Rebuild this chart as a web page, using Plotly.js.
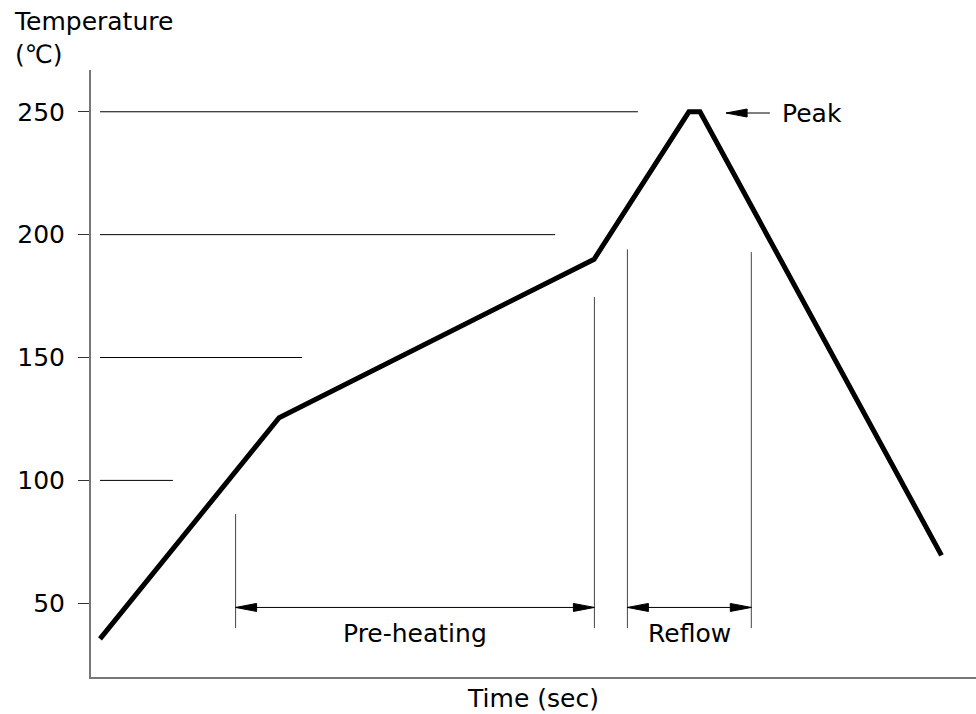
<!DOCTYPE html>
<html>
<head>
<meta charset="utf-8">
<script src="https://cdn.plot.ly/plotly-3.0.1.min.js"></script>
<style>html,body{margin:0;padding:0;background:#fff;}#chart{width:976px;height:714px;}</style>
</head>
<body>
<div id="chart"></div>
<script>
// Reflow temperature profile (time in arbitrary sec units, temperature in °C)
const profileTime = [3, 62.7, 167.7, 199.3, 203, 283.5];
const profileTemp = [35.5, 125.5, 190, 250, 250, 69.5];

// Horizontal reference lines
const refTemps = [100, 150, 200, 250];
const refStart = [3, 3, 3, 3];
const refEnd = [27.3, 70.3, 154.7, 182.3];

// Vertical zone markers
const markerTimes = [48.2, 167.8, 178.8, 220.1];
const markerTop = [86.3, 174.6, 194, 192.9];
const markerBottom = 39.9;

// Zone spans and labels
const zoneNames = ["Pre-heating", "Reflow"];
const zoneStart = [48.2, 178.8];
const zoneEnd = [167.8, 220.1];
const zoneArrowTemp = 48.3;
const zoneLabelTemp = 37.5;

// Peak pointer
const peakLabel = "Peak";
const peakArrowFrom = 226.3;
const peakArrowTo = 211.7;
const peakTemp = 249.5;

const yTicks = [50, 100, 150, 200, 250];

const FONT = "DejaVu Sans, Noto Sans CJK JP, sans-serif";
const FS = 25;
const shapes = [];

refTemps.forEach((t, i) => {
  shapes.push({type: 'line', xref: 'x', yref: 'y', x0: refStart[i], x1: refEnd[i], y0: t, y1: t,
    line: {color: '#000', width: 1}});
});
markerTimes.forEach((t, i) => {
  shapes.push({type: 'line', xref: 'x', yref: 'y', x0: t, x1: t, y0: markerBottom, y1: markerTop[i],
    line: {color: '#444', width: 1}});
});
function head(xTip, yv, dir) {
  // dir = 1 : points left (base to the right); dir = -1 : points right
  const L = 21 * dir, H = 4;
  shapes.push({type: 'path', xref: 'x', yref: 'y', xsizemode: 'pixel', ysizemode: 'pixel',
    xanchor: xTip, yanchor: yv,
    path: `M0,0 L${L},${H} L${L},${-H} Z`,
    fillcolor: '#000', line: {color: '#000', width: 1}});
}
const annotations = [];
zoneNames.forEach((n, i) => {
  shapes.push({type: 'line', xref: 'x', yref: 'y', x0: zoneStart[i], x1: zoneEnd[i], y0: zoneArrowTemp, y1: zoneArrowTemp,
    line: {color: '#000', width: 1}});
  head(zoneStart[i], zoneArrowTemp, 1);
  head(zoneEnd[i], zoneArrowTemp, -1);
  annotations.push({xref: 'x', yref: 'y', x: (zoneStart[i] + zoneEnd[i]) / 2, y: zoneLabelTemp,
    text: n, showarrow: false, xanchor: 'center', yanchor: 'middle', font: {family: FONT, size: FS, color: '#000'}});
});
shapes.push({type: 'line', xref: 'x', yref: 'y', x0: peakArrowTo, x1: peakArrowFrom, y0: peakTemp, y1: peakTemp,
  line: {color: '#000', width: 1}});
head(peakArrowTo, peakTemp, 1);
annotations.push({xref: 'x', yref: 'y', x: peakArrowFrom + 3.3, y: peakTemp, text: peakLabel, showarrow: false,
  xanchor: 'left', yanchor: 'middle', font: {family: FONT, size: FS, color: '#000'}});
annotations.push({xref: 'paper', yref: 'paper', x: -0.0893, y: 1.052, text: "Temperature<br>(℃)", align: 'left',
  showarrow: false, xanchor: 'left', yanchor: 'middle', font: {family: FONT, size: FS, color: '#000'}});

const data = [{
  type: 'scatter', mode: 'lines', x: profileTime, y: profileTemp,
  line: {color: '#000', width: 5}, hoverinfo: 'x+y', cliponaxis: false
}];

const layout = {
  width: 976, height: 714,
  margin: {l: 91, r: 0, t: 70, b: 37},
  paper_bgcolor: '#fff', plot_bgcolor: '#fff',
  showlegend: false,
  font: {family: FONT, size: FS, color: '#000'},
  xaxis: {
    range: [0, 295], showgrid: false, zeroline: false, showticklabels: false, ticks: '',
    showline: true, linecolor: '#777', linewidth: 2,
    title: {text: 'Time (sec)', standoff: 11, font: {family: FONT, size: FS, color: '#000'}}
  },
  yaxis: {
    range: [20, 267], showgrid: false, zeroline: false,
    tickvals: yTicks, ticktext: yTicks.map(String), ticks: 'outside', ticklen: 11, tickwidth: 1, tickcolor: '#333',
    ticklabelstandoff: 8,
    showline: true, linecolor: '#777', linewidth: 2,
    tickfont: {family: FONT, size: FS, color: '#000'}
  },
  shapes: shapes,
  annotations: annotations
};

Plotly.newPlot('chart', data, layout, {displayModeBar: false, staticPlot: true});
</script>
</body>
</html>
